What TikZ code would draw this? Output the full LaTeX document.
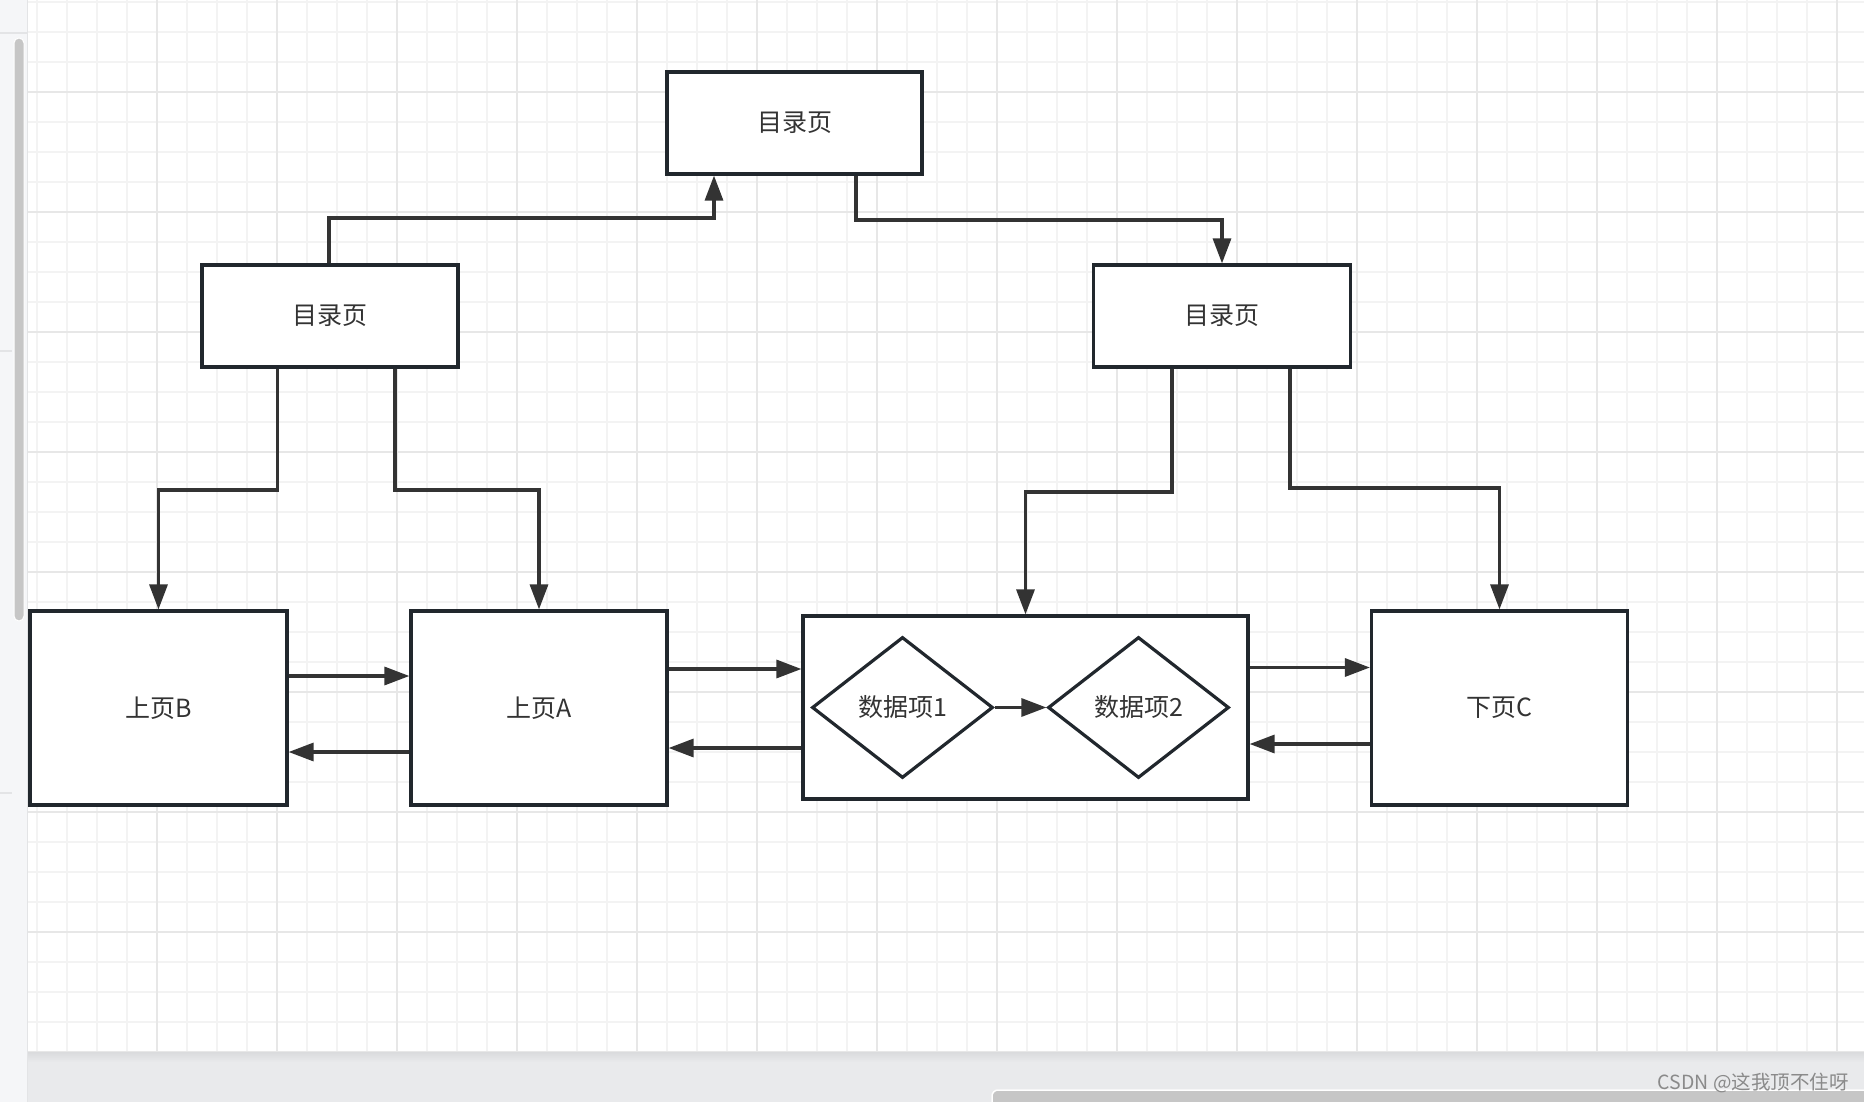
\documentclass[tikz,border=0pt]{standalone}
\usepackage{fontspec}
\newfontfamily\cjk{Noto Sans CJK SC}
\usetikzlibrary{arrows.meta,shapes.geometric}
\definecolor{boxline}{HTML}{21272D}
\definecolor{conncol}{HTML}{333333}
\definecolor{txt}{HTML}{333333}
\definecolor{gridminor}{HTML}{F3F3F3}
\definecolor{gridmajor}{HTML}{E7E7E7}
\definecolor{panel}{HTML}{F5F6F8}
\definecolor{panelline}{HTML}{E3E4E6}
\definecolor{band}{HTML}{E9EAEC}
\definecolor{bandtop}{HTML}{DADBDD}
\definecolor{scroll}{HTML}{C6C6C6}
\definecolor{wmark}{HTML}{8A8A8A}
\begin{document}
\begin{tikzpicture}[x=1pt,y=-1pt,
  pagebox/.style={rectangle, draw=boxline, line width=3.2pt, fill=white, inner sep=0pt,
    text=txt, font=\cjk\fontsize{25}{29}\selectfont},
  dataitem/.style={diamond, draw=boxline, line width=3.2pt, fill=white, inner sep=0pt,
    minimum width=181pt, minimum height=141pt, text=txt, font=\cjk\fontsize{25}{29}\selectfont},
  conn/.style={draw=conncol, line width=3.2pt, -{Triangle[length=25pt,width=18pt]}},
  minorgrid/.style={draw=gridminor, line width=2pt},
  majorgrid/.style={draw=gridmajor, line width=2pt}]
\useasboundingbox (0,0) rectangle (1864,1102);
% background
\fill[white] (0,0) rectangle (1864,1102);
\begin{scope}
  \clip (28,0) rectangle (1864,1052);
  \foreach \k in {0,...,61} {\draw[minorgrid] ({36.7+30*\k},0) -- ({36.7+30*\k},1052);}
  \foreach \k in {0,...,35} {\draw[minorgrid] (28,{2.3+30*\k}) -- (1864,{2.3+30*\k});}
  \foreach \k in {0,...,14} {\draw[majorgrid] ({156.7+120*\k},0) -- ({156.7+120*\k},1052);}
  \foreach \k in {0,...,8} {\draw[majorgrid] (28,{92.3+120*\k}) -- (1864,{92.3+120*\k});}
\end{scope}
% bottom band and scrollbar
\fill[band] (28,1052) rectangle (1864,1102);
\shade[top color=bandtop, bottom color=band] (28,1052) rectangle (1864,1062);
\draw[scroll, fill=scroll, rounded corners=6pt] (992,1090) rectangle (1890,1112);
\draw[white, line width=1.5pt, rounded corners=6pt] (992,1090) rectangle (1890,1112);
% left panel
\fill[panel] (0,0) rectangle (27,1102);
\draw[panelline, line width=1.5pt] (27.5,0) -- (27.5,1102);
\draw[panelline, line width=1.5pt] (0,33) -- (27,33);
\draw[panelline, line width=1.5pt] (0,351) -- (12,351);
\draw[panelline, line width=1.5pt] (0,793) -- (12,793);
\draw[fill=scroll, draw=white, line width=1pt, rounded corners=5pt] (14,38) rectangle (24,621);
% watermark
\node[anchor=east, inner sep=0pt, text=wmark, font=\cjk\fontsize{19.5}{20}\selectfont] (wm) at (1849,1083) {CSDN @这我顶不住呀};

% nodes
\node[pagebox, minimum width=255pt, minimum height=102pt] (top) at (794.5,123) {目录页};
\node[pagebox, minimum width=256pt, minimum height=102pt] (LT) at (330,316) {目录页};
\node[pagebox, minimum width=257pt, minimum height=102pt] (RT) at (1222,316) {目录页};
\node[pagebox, minimum width=257pt, minimum height=194pt] (B) at (158.5,708) {上页B};
\node[pagebox, minimum width=256pt, minimum height=194pt] (A) at (539,708) {上页A};
\node[pagebox, minimum width=445pt, minimum height=183pt] (data) at (1025.5,707.5) {};
\node[pagebox, minimum width=256pt, minimum height=194pt] (C) at (1499.5,708) {下页C};
\node[dataitem] (d1) at (902.5,707.5) {数据项1};
\node[dataitem] (d2) at (1138.5,707.5) {数据项2};

% connectors
\draw[conn] (LT.north -| 329,0) |- (714,218) -- (714,218 |- top.south);
\draw[conn] (top.south -| 856,0) |- (RT.north |- 0,220) -- (RT.north);
\draw[conn] (LT.south -| 277.5,0) |- (B.north |- 0,490) -- (B.north);
\draw[conn] (LT.south -| 395,0) |- (A.north |- 0,490) -- (A.north);
\draw[conn] (RT.south -| 1172,0) |- (data.north |- 0,492) -- (data.north);
\draw[conn] (RT.south -| 1290,0) |- (C.north |- 0,488) -- (C.north);

\draw[conn] (B.east |- 0,676) -- (A.west |- 0,676);
\draw[conn] (A.west |- 0,752) -- (B.east |- 0,752);
\draw[conn] (A.east |- 0,669) -- (data.west |- 0,669);
\draw[conn] (data.west |- 0,748) -- (A.east |- 0,748);
\draw[conn] (data.east |- 0,667.5) -- (C.west |- 0,667.5);
\draw[conn] (C.west |- 0,744) -- (data.east |- 0,744);
\draw[conn] (d1.east) -- (d2.west);
\end{tikzpicture}
\end{document}
